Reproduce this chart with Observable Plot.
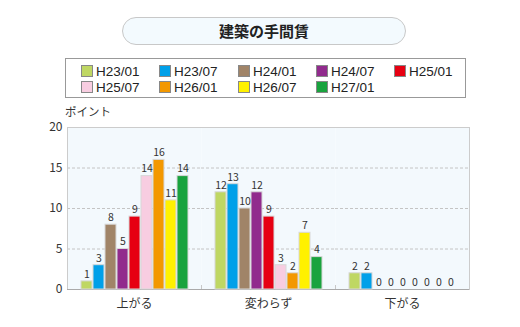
<!DOCTYPE html>
<html><head><meta charset="utf-8">
<script src="https://cdn.jsdelivr.net/npm/d3@7"></script>
<script src="https://cdn.jsdelivr.net/npm/@observablehq/plot@0.6"></script>
<style>
body{margin:0;background:#fff;font-family:"Noto Sans CJK JP","Noto Sans",sans-serif;}
#wrap{position:relative;width:520px;height:327px;}
#title{position:absolute;left:122px;top:17px;width:282px;height:26px;border:1px solid #c8c8c8;border-radius:14px;background:#f3fafe;text-align:center;font-weight:bold;font-size:15px;line-height:26px;color:#222;}
#legend{position:absolute;left:65px;top:58px;width:399px;height:38px;border:1px solid #999;background:#fff;}
.li{position:absolute;font-size:13.5px;font-family:"Liberation Sans",Arial,sans-serif;color:#222;white-space:nowrap;line-height:15px;}
.sw{display:inline-block;width:10px;height:10px;border:1px solid #888;vertical-align:-1px;margin-right:3px;}
#unit{position:absolute;left:65px;top:103px;font-size:11.5px;color:#333;}
#chart{position:absolute;left:0;top:0;}
</style></head><body>
<div id="wrap">
<div id="chart"></div>
<div id="title">建築の手間賃</div>
<div id="legend"></div>
<div id="unit">ポイント</div>
</div>
<script>
const categories = ["上がる", "変わらず", "下がる"];
const seriesNames = ["H23/01","H23/07","H24/01","H24/07","H25/01","H25/07","H26/01","H26/07","H27/01"];
const colors = ["#bfd763","#00a0e9","#a08468","#912b8d","#e60012","#f8cde1","#f39800","#fff100","#19a33e"];
const valuesUp = [1,3,8,5,9,14,16,11,14];
const valuesSame = [12,13,10,12,9,3,2,7,4];
const valuesDown = [2,2,0,0,0,0,0,0,0];
const yTicks = [0,5,10,15,20];

const seriesValues = [valuesUp, valuesSame, valuesDown];
const data = [];
categories.forEach((c, ci) => seriesNames.forEach((s, si) => data.push({cat: c, series: s, value: seriesValues[ci][si]})));

// legend
const lg = document.getElementById("legend");
const colX = [15, 93, 172, 250, 328];
seriesNames.forEach((s, i) => {
  const d = document.createElement("div");
  d.className = "li";
  d.style.left = colX[i % 5] + "px";
  d.style.top = (i < 5 ? 5 : 21) + "px";
  d.innerHTML = `<span class="sw" style="background:${colors[i]}"></span>${s}`;
  lg.appendChild(d);
});

const chart = Plot.plot({
  width: 520, height: 327,
  marginLeft: 66, marginRight: 51, marginTop: 127, marginBottom: 38,
  style: {fontFamily: "'Noto Sans CJK JP','Noto Sans',sans-serif", background: "transparent"},
  fx: {domain: categories, padding: 0, label: null, axis: null},
  x: {domain: seriesNames, paddingInner: 0.1, paddingOuter: 1.07, axis: null},
  y: {domain: [0, 20], ticks: yTicks, label: null, axis: null},
  color: {domain: seriesNames, range: colors},
  marks: [
    Plot.frame({fill: "#f3f9fd", stroke: null}),
    Plot.gridY(yTicks.filter(t => t > 0 && t < 20), {stroke: "#c4c4c4", strokeOpacity: 1, strokeDasharray: "3,2"}),
    Plot.frame({anchor: "left", stroke: "#c8c8c8", insetTop: 158}),
    Plot.frame({stroke: "#cccccc", fill: null, facet: "super"}),
    Plot.ruleY([0], {stroke: "#aaa"}),
    Plot.barY(data.filter(d => d.value > 0), {fx: "cat", x: "series", y: "value", fill: "series", stroke: "#d8d8d8", strokeWidth: 1}),
    Plot.text(data, {fx: "cat", x: "series", y: "value", text: d => String(d.value), dy: -7, fontSize: 10.5, fill: "#333"}),
    Plot.axisY(yTicks, {tickSize: 0, tickPadding: 5, fontSize: 12, fill: "#333", label: null, facetAnchor: "left"}),
    Plot.text(categories, {fx: d => d, frameAnchor: "bottom", dy: 18, text: d => d, fontSize: 12, fill: "#333"})
  ]
});
document.getElementById("chart").appendChild(chart);
</script>
</body></html>
